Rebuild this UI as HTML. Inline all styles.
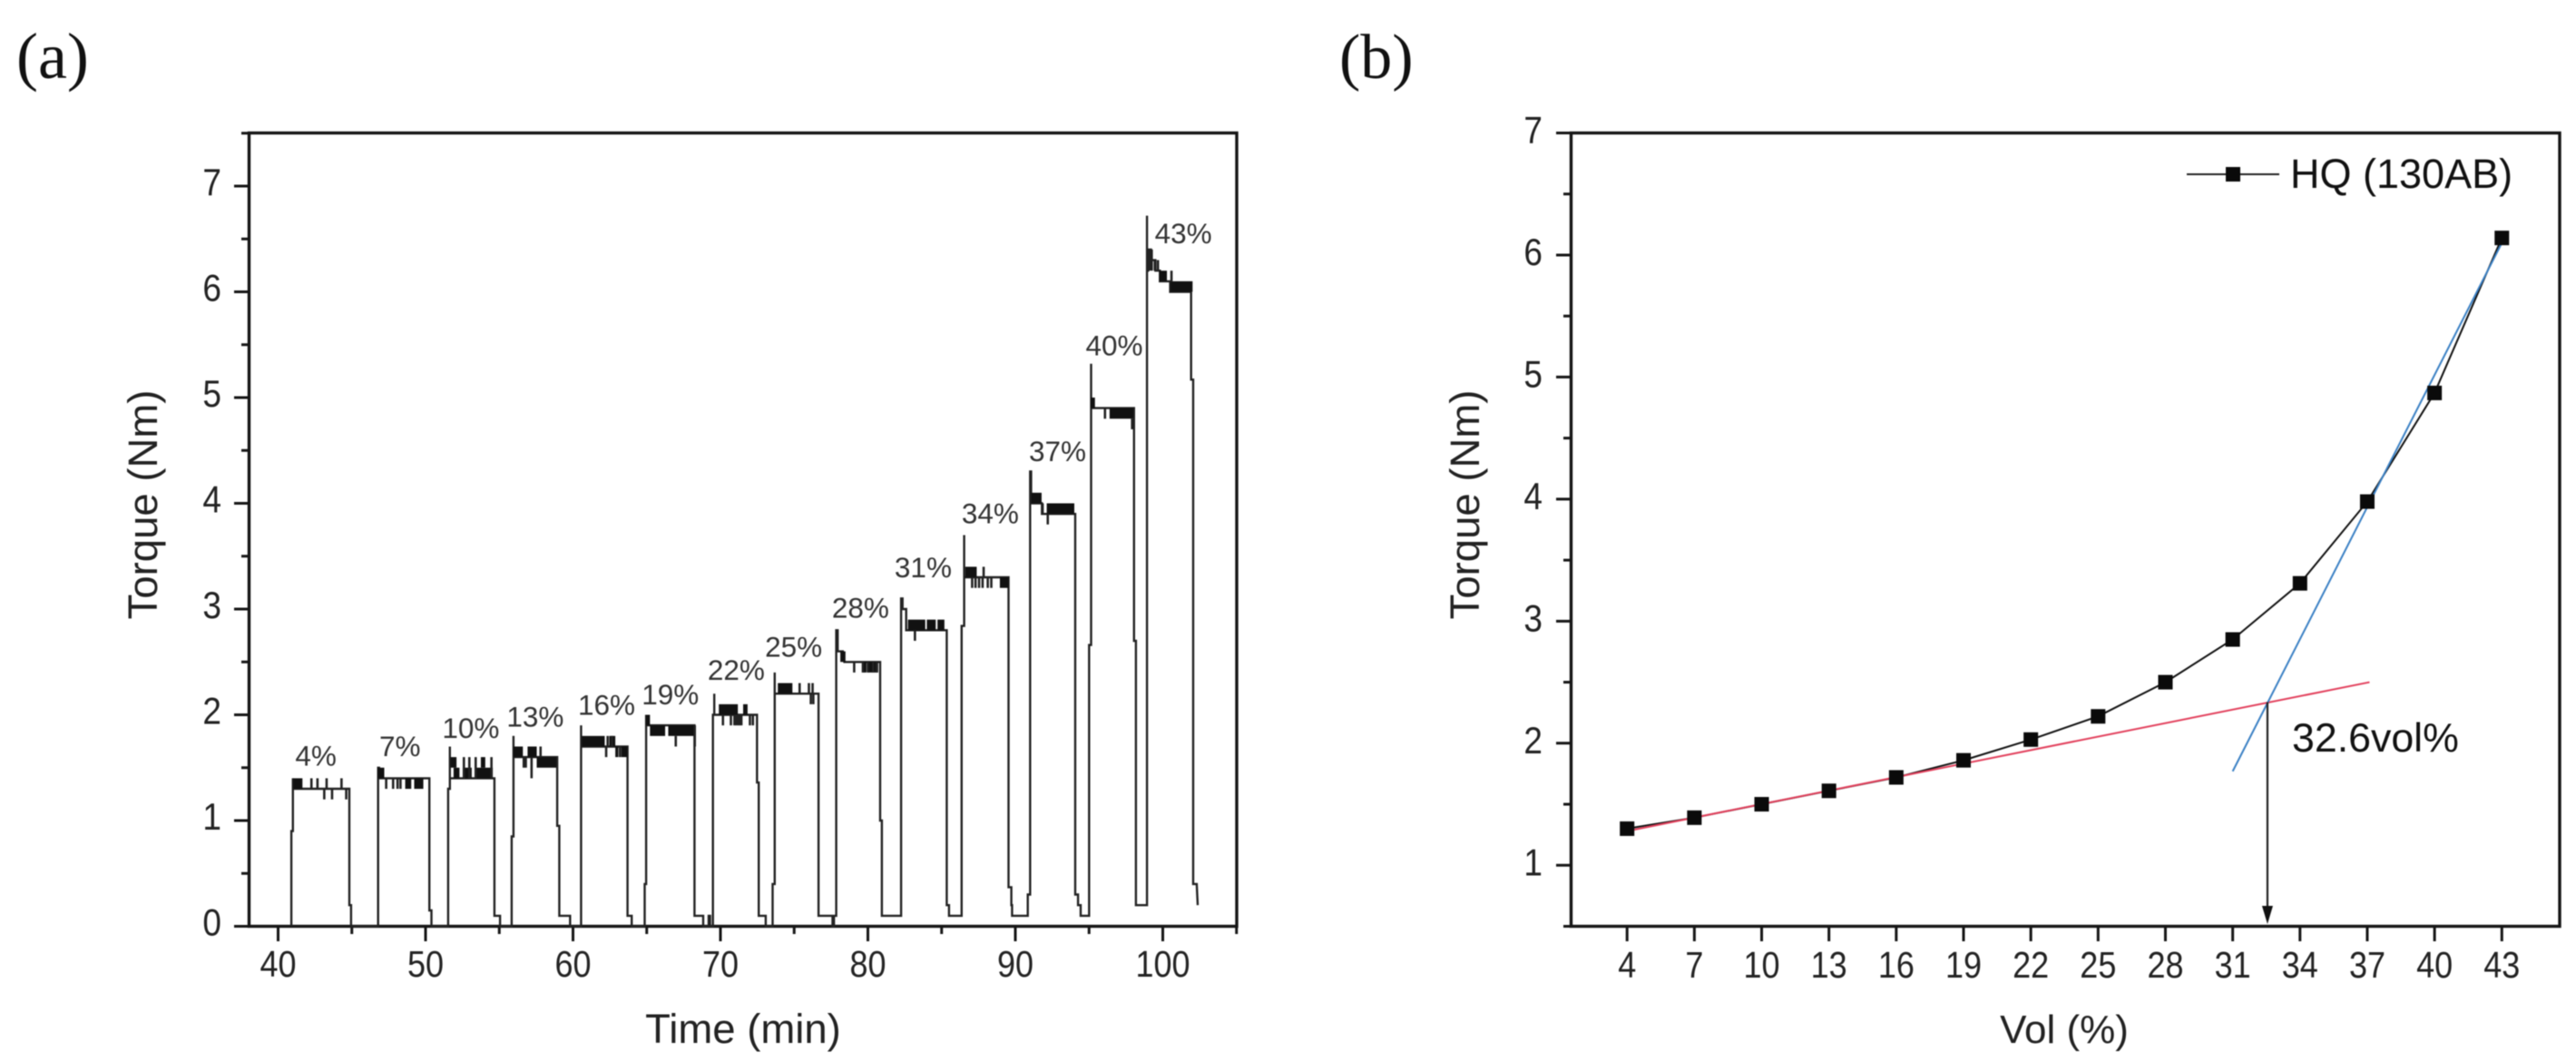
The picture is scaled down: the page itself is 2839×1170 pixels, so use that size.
<!DOCTYPE html>
<html lang="en">
<head>
<meta charset="utf-8">
<title>Torque versus time and volume fraction</title>
<style>
  html, body { margin: 0; padding: 0; background: #fff; }
  svg { display: block; filter: blur(0.45px); }
  text { font-family: "Liberation Sans", sans-serif; fill: #222; }
  .serif { font-family: "Liberation Serif", serif; fill: #111; }
</style>
</head>
<body>
<svg id="figure" xmlns="http://www.w3.org/2000/svg" width="2839" height="1170" viewBox="0 0 2839 1170">
  <rect width="2839" height="1170" fill="#fff"/>
</svg>
<script>
// ---------- Panel (a): torque trace ----------
const xTicksA = [40, 50, 60, 70, 80, 90, 100];
const xMinorTicksA = [45, 55, 65, 75, 85, 95, 105];
const yTicksA = [0, 1, 2, 3, 4, 5, 6, 7];
const yMinorTicksA = [0.5, 1.5, 2.5, 3.5, 4.5, 5.5, 6.5, 7.5];

const traceTime = [
  40.9, 40.9, 41.0, 41.0, 41.0, 44.83, 44.83, 44.95, 44.95,
  46.78, 46.78, 46.85, 46.85, 50.26, 50.26, 50.4, 50.4,
  51.53, 51.53, 51.65, 51.65, 51.65, 54.67, 54.67, 55.05, 55.05,
  55.84, 55.84, 55.96, 55.96, 55.96, 58.93, 58.93, 59.07, 59.07, 59.8, 59.8,
  60.55, 60.55, 60.55, 63.7, 63.7, 63.98, 63.98,
  64.86, 64.86, 64.96, 64.96, 64.96, 68.24, 68.24, 68.83, 68.83, 69.2, 69.2, 69.3, 69.3,
  69.49, 69.49, 69.58, 69.58, 69.58, 72.48, 72.48, 72.6, 72.6, 73.07, 73.07, 73.54,
  73.54, 73.68, 73.68, 73.68, 76.65, 76.65, 77.6, 77.6, 77.7, 77.7, 77.85,
  77.85, 77.95, 77.95, 78.3, 78.4, 80.83, 80.83, 80.95, 80.95, 82.25,
  82.25, 82.35, 82.35, 82.6, 82.6, 85.35, 85.35, 85.5, 85.5, 86.36,
  86.36, 86.53, 86.53, 86.53, 89.54, 89.54, 89.73, 89.73, 89.78, 89.78, 90.84, 90.84, 91.0,
  91.0, 91.07, 91.07, 91.8, 91.8, 94.06, 94.06, 94.25, 94.25, 94.43, 94.43, 95.0,
  95.0, 95.14, 95.14, 95.14, 98.05, 98.05, 98.18, 98.18, 98.93,
  98.93, 98.93, 99.0, 99.0, 99.2, 99.2, 99.5, 99.5, 99.8, 99.8, 100.5, 100.5, 101.92, 101.92, 102.06, 102.06, 102.3, 102.37
];
const traceTorque = [
  0, 0.9, 0.9, 1.4, 1.3, 1.3, 0.2, 0.2, 0,
  0, 1.5, 1.5, 1.4, 1.4, 0.15, 0.15, 0,
  0, 1.3, 1.3, 1.7, 1.4, 1.4, 0.1, 0.1, 0,
  0, 0.85, 0.85, 1.8, 1.6, 1.6, 0.95, 0.95, 0.1, 0.1, 0,
  0, 1.9, 1.7, 1.7, 0.1, 0.1, 0,
  0, 0.4, 0.4, 2.0, 1.9, 1.9, 0.1, 0.1, 0, 0, 0.1, 0.1, 0,
  0, 2.0, 2.0, 2.2, 2.0, 2.0, 1.36, 1.36, 0.1, 0.1, 0, 0,
  0.4, 0.4, 2.4, 2.2, 2.2, 0.1, 0.1, 0, 0, 0.1, 0.1,
  2.8, 2.8, 2.6, 2.6, 2.5, 2.5, 1.0, 1.0, 0.1, 0.1,
  3.1, 3.1, 3.0, 3.0, 2.8, 2.8, 0.2, 0.2, 0.1, 0.1,
  2.84, 2.84, 3.7, 3.3, 3.3, 0.37, 0.37, 0.2, 0.2, 0.1, 0.1, 0.3, 0.3,
  4.3, 4.3, 4.0, 4.0, 3.9, 3.9, 0.3, 0.3, 0.2, 0.2, 0.1, 0.1,
  2.66, 2.66, 5.32, 4.9, 4.9, 2.7, 2.7, 0.2, 0.2,
  6.72, 6.2, 6.2, 6.4, 6.4, 6.3, 6.3, 6.2, 6.2, 6.1, 6.1, 6.0, 6.0, 5.17, 5.17, 0.4, 0.4, 0.2
];

// Filled noise bands: the signal flickers between two torque levels
const bandStart = [41.03, 46.78, 48.62, 49.23, 51.7, 51.9, 52.52, 53.44, 53.75, 55.96, 56.92, 57.54, 60.61, 62.46, 62.87, 63.27, 64.96, 65.22, 66.46, 69.89, 71.54, 73.89, 78.13, 79.66, 80.0, 82.72, 84.0, 84.72, 86.6, 88.95, 91.07, 92.13, 95.11, 96.39, 99.77, 100.53];
const bandEnd = [41.65, 47.2, 49.03, 49.85, 52.1, 52.3, 53.13, 54.56, 54.05, 56.6, 57.54, 58.87, 62.15, 62.87, 63.07, 63.69, 65.22, 66.25, 68.3, 71.18, 71.84, 74.88, 78.48, 79.9, 80.7, 83.89, 84.6, 85.19, 87.38, 89.54, 91.78, 94.0, 95.4, 98.0, 100.28, 102.02];
const bandLow = [1.3, 1.4, 1.3, 1.3, 1.5, 1.4, 1.4, 1.4, 1.5, 1.6, 1.6, 1.5, 1.7, 1.7, 1.6, 1.6, 1.9, 1.8, 1.8, 2.0, 2.0, 2.2, 2.5, 2.4, 2.4, 2.8, 2.8, 2.8, 3.3, 3.2, 4.0, 3.9, 4.9, 4.8, 6.1, 6.0];
const bandHigh = [1.4, 1.5, 1.4, 1.4, 1.6, 1.5, 1.5, 1.5, 1.6, 1.7, 1.7, 1.6, 1.8, 1.8, 1.7, 1.7, 2.0, 1.9, 1.9, 2.1, 2.1, 2.3, 2.6, 2.5, 2.5, 2.9, 2.9, 2.9, 3.4, 3.3, 4.1, 4.0, 5.0, 4.9, 6.2, 6.1];

// Single noise spikes
const spikeTime = [42.26, 42.67, 43.29, 44.3, 43.13, 43.66, 44.62, 47.33, 47.8, 48.1, 48.3, 52.6, 52.97, 53.4, 54.47, 56.66, 56.8, 57.19, 57.8, 62.25, 62.35, 62.65, 63.18, 66.97, 68.26, 70.17, 70.71, 70.95, 71.07, 71.2, 71.3, 71.42, 72.0, 72.2, 75.37, 76.0, 76.25, 76.13, 76.3, 79.07, 79.66, 80.0, 80.36, 80.6, 83.19, 87.85, 87.07, 87.3, 87.54, 87.78, 88.13, 88.37, 92.2, 91.85, 96.08, 97.92, 99.09, 99.25, 99.46, 99.67, 100.59];
const spikeFrom = [1.3, 1.3, 1.3, 1.3, 1.3, 1.3, 1.3, 1.4, 1.4, 1.4, 1.4, 1.4, 1.4, 1.4, 1.4, 1.6, 1.6, 1.6, 1.6, 1.7, 1.7, 1.7, 1.7, 1.8, 1.7, 2.0, 2.0, 2.0, 2.0, 2.0, 2.0, 2.0, 2.0, 2.0, 2.2, 2.2, 2.2, 2.2, 2.2, 2.5, 2.5, 2.5, 2.5, 2.5, 2.8, 3.3, 3.3, 3.3, 3.3, 3.3, 3.3, 3.3, 3.9, 4.0, 4.9, 4.8, 6.2, 6.2, 6.2, 6.2, 6.1];
const spikeTo = [1.4, 1.4, 1.4, 1.4, 1.2, 1.2, 1.2, 1.3, 1.3, 1.3, 1.3, 1.6, 1.6, 1.6, 1.6, 1.5, 1.5, 1.4, 1.7, 1.6, 1.8, 1.8, 1.6, 1.7, 1.9, 1.9, 1.9, 1.9, 1.9, 1.9, 1.9, 1.9, 1.9, 1.9, 2.3, 2.3, 2.3, 2.1, 2.1, 2.4, 2.4, 2.4, 2.4, 2.4, 2.7, 3.4, 3.2, 3.2, 3.2, 3.2, 3.2, 3.2, 3.8, 3.9, 4.8, 4.7, 6.4, 6.4, 6.3, 6.3, 6.2];

const loadLabels = ['4%', '7%', '10%', '13%', '16%', '19%', '22%', '25%', '28%', '31%', '34%', '37%', '40%', '43%'];
const loadLabelTime = [42.56, 48.26, 53.07, 57.44, 62.28, 66.6, 71.07, 74.96, 79.5, 83.75, 88.3, 92.86, 96.71, 101.39];
const loadLabelTorque = [1.52, 1.61, 1.78, 1.89, 2.0, 2.1, 2.33, 2.55, 2.92, 3.3, 3.81, 4.4, 5.4, 6.46];

// ---------- Panel (b): steady torque vs volume fraction ----------
const volumes = [4, 7, 10, 13, 16, 19, 22, 25, 28, 31, 34, 37, 40, 43];
const torques = [1.3, 1.39, 1.5, 1.61, 1.72, 1.86, 2.03, 2.22, 2.5, 2.85, 3.31, 3.98, 4.87, 6.14];
const yTicksB = [1, 2, 3, 4, 5, 6, 7];
const yMinorTicksB = [0.5, 1.5, 2.5, 3.5, 4.5, 5.5, 6.5];
const lowFitVol = [4, 37.1];
const lowFitTorque = [1.28, 2.5];
const highFitVol = [31, 43];
const highFitTorque = [1.77, 6.1];
const criticalVol = [32.55];
const criticalTorque = [2.337];

// ---------- Axis functions ----------
const xA = t => 306.5 + (t - 40) * 16.25;
const yA = v => 1020.5 - v * 116.5;
const xB = v => 1793.2 + (v - 4) * 24.72;
const yB = v => 1020.5 - (v - 0.5) * 134.46;

const NS = 'http://www.w3.org/2000/svg';
const fig = document.getElementById('figure');
function add(parent, tag, attrs, txt) {
  const el = document.createElementNS(NS, tag);
  for (const k in attrs) el.setAttribute(k, attrs[k]);
  if (txt !== undefined) el.textContent = txt;
  parent.appendChild(el);
  return el;
}
// Reference text is stretched slightly in the vertical direction
const tall = (x, y) => 'translate(' + x + ' ' + y + ') scale(1 1.12)';
const AXIS = '#151515';

// ---------- Panel (a) ----------
const panelA = add(fig, 'g', {});



const tagA = add(panelA, 'text', {x: 18, y: 86, 'font-size': 72, class: 'serif'}, '(a)');



const frameA = add(panelA, 'rect', {x: 274.5, y: 146.5, width: 1088.5, height: 874, fill: 'none', stroke: AXIS, 'stroke-width': 3.4});



xTicksA.forEach(t => {
  const tick = add(panelA, 'line', {x1: xA(t), x2: xA(t), y1: 1020.5, y2: 1037, stroke: AXIS, 'stroke-width': 3});
  
  
  const label = add(panelA, 'text', {transform: tall(xA(t), 1076), 'font-size': 36, 'text-anchor': 'middle'}, String(t));
  
  
});
xMinorTicksA.forEach(t => {
  const tick = add(panelA, 'line', {x1: xA(t), x2: xA(t), y1: 1020.5, y2: 1029, stroke: AXIS, 'stroke-width': 3});
  
  
});
yTicksA.forEach(v => {
  const tick = add(panelA, 'line', {x1: 258, x2: 274.5, y1: yA(v), y2: yA(v), stroke: AXIS, 'stroke-width': 3});
  
  
  const label = add(panelA, 'text', {transform: tall(244, yA(v) + 10), 'font-size': 37, 'text-anchor': 'end'}, String(v));
  
  
});
yMinorTicksA.forEach(v => {
  const tick = add(panelA, 'line', {x1: 266, x2: 274.5, y1: yA(v), y2: yA(v), stroke: AXIS, 'stroke-width': 3});
  
  
});

const xTitleA = add(panelA, 'text', {x: 819, y: 1149, 'font-size': 45.5, 'text-anchor': 'middle'}, 'Time (min)');



const yTitleA = add(panelA, 'text', {transform: 'translate(173 556) rotate(-90)', 'font-size': 45.5, 'text-anchor': 'middle'}, 'Torque (Nm)');



const tracePoints = traceTime.map((t, i) => xA(t).toFixed(1) + ',' + yA(traceTorque[i]).toFixed(1)).join(' ');
const trace = add(panelA, 'polyline', {points: tracePoints, fill: 'none', stroke: '#222', 'stroke-width': 2.4, 'stroke-linejoin': 'miter'});



bandStart.forEach((t, i) => {
  const band = add(panelA, 'rect', {
    x: xA(t), y: yA(bandHigh[i]),
    width: xA(bandEnd[i]) - xA(t),
    height: yA(bandLow[i]) - yA(bandHigh[i]),
    fill: '#111'
  });
  
  
});
spikeTime.forEach((t, i) => {
  const spike = add(panelA, 'line', {x1: xA(t), x2: xA(t), y1: yA(spikeFrom[i]), y2: yA(spikeTo[i]), stroke: '#222', 'stroke-width': 2.6});
  
  
});
loadLabels.forEach((s, i) => {
  const label = add(panelA, 'text', {x: xA(loadLabelTime[i]), y: yA(loadLabelTorque[i]), 'font-size': 31.5, 'text-anchor': 'middle', style: 'fill:#333'}, s);
  
  
});

// ---------- Panel (b) ----------
const panelB = add(fig, 'g', {});



const tagB = add(panelB, 'text', {x: 1476, y: 86, 'font-size': 70, class: 'serif'}, '(b)');



const frameB = add(panelB, 'rect', {x: 1731.5, y: 146.5, width: 1089.5, height: 874, fill: 'none', stroke: AXIS, 'stroke-width': 3.4});



volumes.forEach(v => {
  const tick = add(panelB, 'line', {x1: xB(v), x2: xB(v), y1: 1020.5, y2: 1037, stroke: AXIS, 'stroke-width': 3});
  
  
  const label = add(panelB, 'text', {transform: tall(xB(v), 1077), 'font-size': 36, 'text-anchor': 'middle'}, String(v));
  
  
});
yTicksB.forEach(v => {
  const tick = add(panelB, 'line', {x1: 1715, x2: 1731.5, y1: yB(v), y2: yB(v), stroke: AXIS, 'stroke-width': 3});
  
  
  const label = add(panelB, 'text', {transform: tall(1700, yB(v) + 11), 'font-size': 37, 'text-anchor': 'end'}, String(v));
  
  
});
yMinorTicksB.forEach(v => {
  const tick = add(panelB, 'line', {x1: 1723, x2: 1731.5, y1: yB(v), y2: yB(v), stroke: AXIS, 'stroke-width': 3});
  
  
});

const xTitleB = add(panelB, 'text', {x: 2275, y: 1149, 'font-size': 44, 'text-anchor': 'middle'}, 'Vol (%)');



const yTitleB = add(panelB, 'text', {transform: 'translate(1630 556) rotate(-90)', 'font-size': 45.5, 'text-anchor': 'middle'}, 'Torque (Nm)');



const seriesLine = add(panelB, 'polyline', {
  points: volumes.map((v, i) => xB(v).toFixed(1) + ',' + yB(torques[i]).toFixed(1)).join(' '),
  fill: 'none', stroke: '#111', 'stroke-width': 2
});



const lowFit = add(panelB, 'line', {x1: xB(lowFitVol[0]), y1: yB(lowFitTorque[0]), x2: xB(lowFitVol[1]), y2: yB(lowFitTorque[1]), stroke: '#e2405c', 'stroke-width': 2});



const highFit = add(panelB, 'line', {x1: xB(highFitVol[0]), y1: yB(highFitTorque[0]), x2: xB(highFitVol[1]), y2: yB(highFitTorque[1]), stroke: '#3a80c4', 'stroke-width': 2});



volumes.forEach((v, i) => {
  const marker = add(panelB, 'rect', {x: xB(v) - 8, y: yB(torques[i]) - 8, width: 16, height: 16, fill: '#0a0a0a'});
  
  
});

const arrowX = xB(criticalVol[0]);
const arrowLine = add(panelB, 'line', {x1: arrowX, x2: arrowX, y1: yB(criticalTorque[0]), y2: 1005, stroke: '#222', 'stroke-width': 2.2});


const arrowHead = add(panelB, 'polygon', {points: [arrowX - 6, 998, arrowX + 6, 998, arrowX, 1018].join(' '), fill: '#111'});


const critical = add(panelB, 'text', {x: 2526, y: 828, 'font-size': 44.7, style: 'fill:#111'}, '32.6vol%');



const legend = add(panelB, 'g', {});


const legendLine = add(legend, 'line', {x1: 2410, x2: 2512, y1: 192, y2: 192, stroke: '#222', 'stroke-width': 2});


const legendMarker = add(legend, 'rect', {x: 2453, y: 184, width: 16, height: 16, fill: '#0a0a0a'});


const legendText = add(legend, 'text', {x: 2524, y: 207, 'font-size': 45, style: 'fill:#111'}, 'HQ (130AB)');


</script>
</body>
</html>
